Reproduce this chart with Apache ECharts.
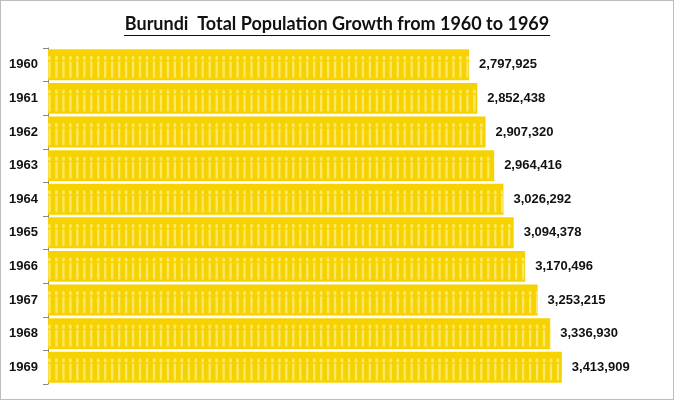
<!DOCTYPE html>
<html><head><meta charset="utf-8">
<script src="https://cdn.jsdelivr.net/npm/echarts@6/dist/echarts.min.js"></script>
<style>html,body{margin:0;padding:0;background:#fff}#c{width:674px;height:400px;box-sizing:border-box;border:1px solid #bdbdbd}</style>
</head><body><div id="c"></div>
<script>
const years = ['1960','1961','1962','1963','1964','1965','1966','1967','1968','1969'];
const population = [2797925, 2852438, 2907320, 2964416, 3026292, 3094378, 3170496, 3253215, 3336930, 3413909];
const titleText = 'Burundi  Total Population Growth from 1960 to 1969';

const chart = echarts.init(document.getElementById('c'), null, {renderer:'canvas'});
chart.setOption({
  animation:false,
  title:{text:titleText,left:'center',top:9,textStyle:{fontFamily:'Lato',fontWeight:'bold',fontSize:18,color:'#111'}},
  graphic:[{type:'line',left:'center',top:32,shape:{x1:0,y1:0,x2:426,y2:0},style:{stroke:'#111',lineWidth:1.2}}],
  grid:{left:47,right:23,top:47,bottom:15,containLabel:false},
  xAxis:{type:'value',min:0,max:4000000,show:false},
  yAxis:{type:'category',data:years,inverse:true,
    axisLine:{lineStyle:{color:'#888'}},
    axisTick:{show:true,length:5,lineStyle:{color:'#888'}},
    axisLabel:{fontFamily:'Liberation Sans',fontWeight:'bold',fontSize:13,color:'#111',margin:10}},
  series:[{type:'bar',data:population,barCategoryGap:'8%',
    itemStyle:{color:'#F6D300'},
    label:{show:true,position:'right',distance:10,fontFamily:'Liberation Sans',fontWeight:'bold',fontSize:13,color:'#111',
      formatter:p=>p.value.toLocaleString('en-US')}},
    {type:'pictorialBar',data:population,barGap:'-100%',barCategoryGap:'8%',
      symbol:'path://M5,0 A4,4 0 1,1 4.99,0 Z M2,10 L8,10 L8,40 L2,40 Z',
      symbolSize:[3,22],symbolRepeat:true,symbolClip:true,symbolMargin:2,symbolPosition:'start',symbolOffset:[0,2],
      itemStyle:{color:'rgba(255,236,130,0.8)'},z:3,silent:true}]
});
</script></body></html>
